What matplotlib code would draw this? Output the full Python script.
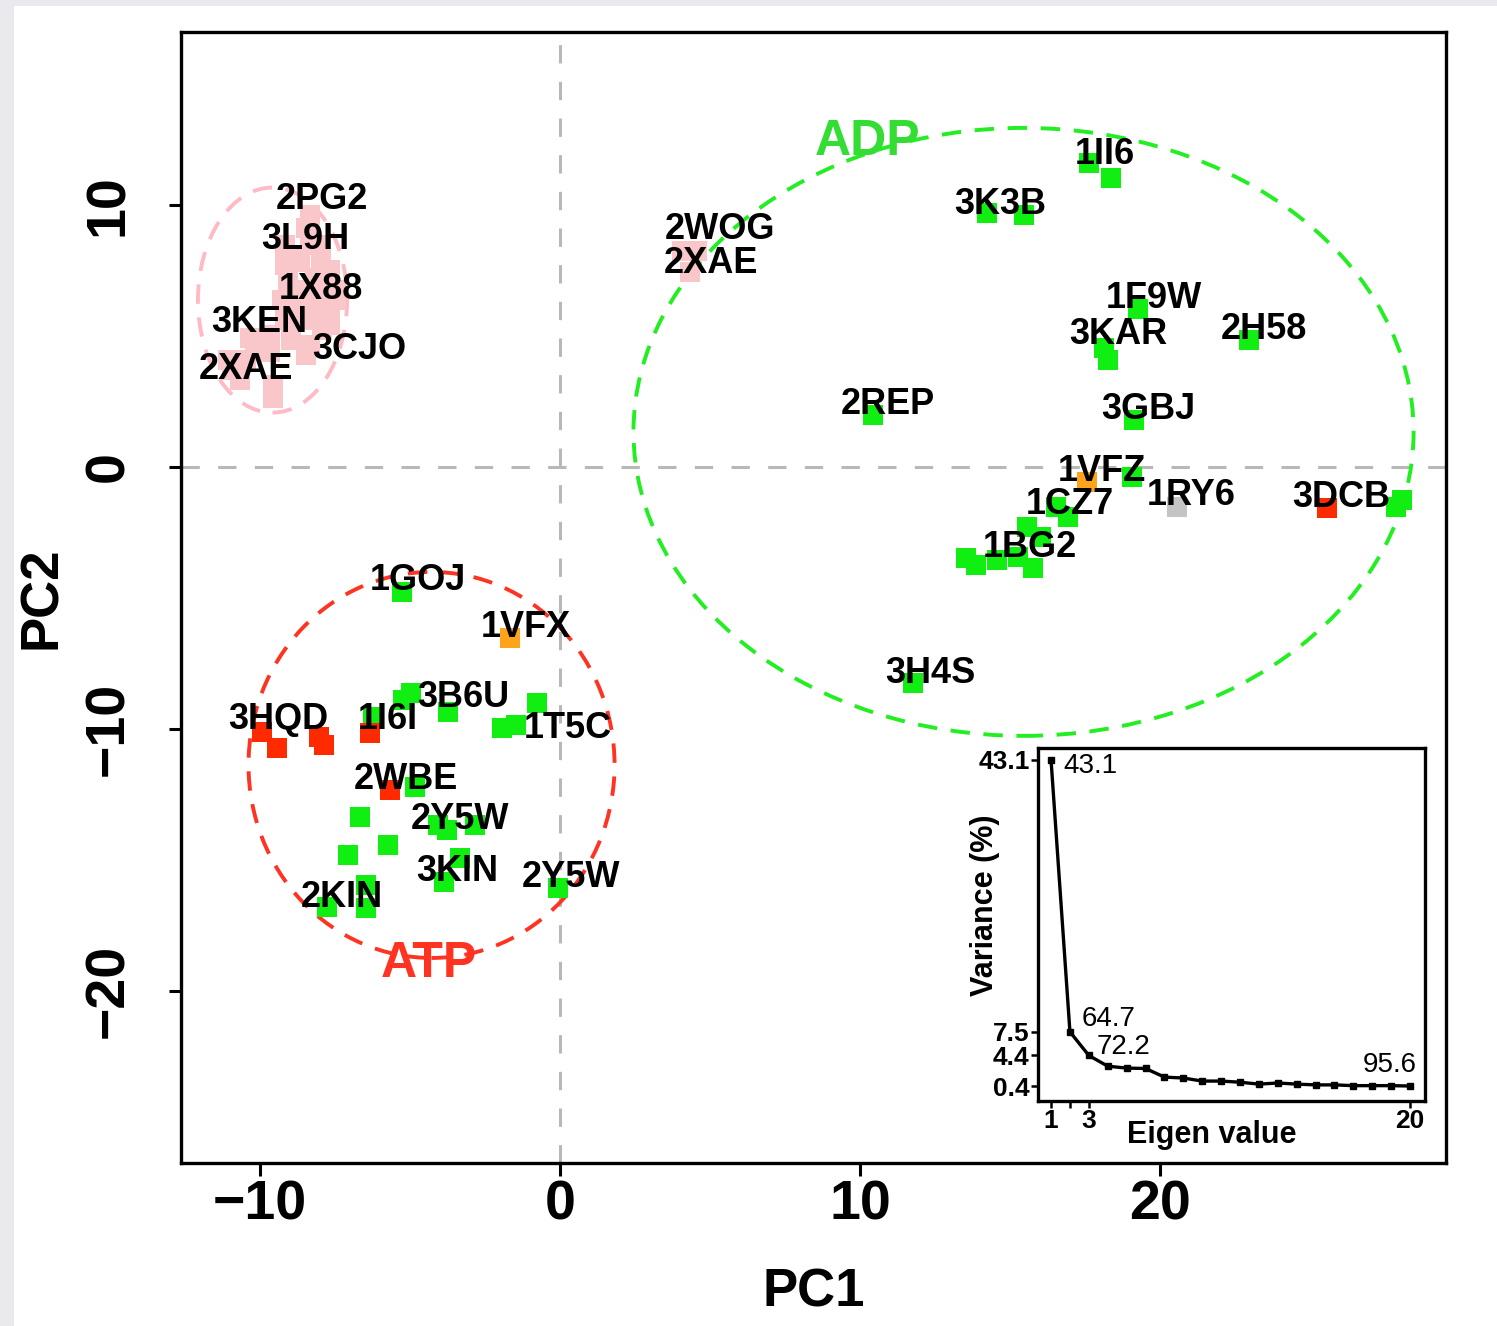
import matplotlib
matplotlib.use("Agg")
import matplotlib.pyplot as plt
from matplotlib.patches import Ellipse, Rectangle

plt.rcParams['font.family'] = ['Liberation Sans', 'DejaVu Sans']

# ---------------- data (PC1, PC2) ----------------
green_x = [17.62, 18.35, 14.22, 15.48, 19.28, 18.12, 18.28, 22.95, 19.12, 10.42,
           19.08, 27.85, 28.08, 16.52, 16.92, 15.58, 16.02, 13.52, 13.85, 14.58,
           15.25, 15.78, 11.75,
           -5.25, -4.98, -5.22, -3.72, -6.22, -0.75, -1.92, -1.48, -4.82, -6.65,
           -5.72, -7.08, -4.08, -3.75, -2.82, -3.32, -3.88, -6.48, -7.75, -6.48, -0.08]
green_y = [11.60, 11.03, 9.69, 9.62, 6.03, 4.54, 4.08, 4.85, 1.79, 1.98,
           -0.38, -1.53, -1.26, -1.53, -1.91, -2.29, -2.67, -3.47, -3.74, -3.55,
           -3.44, -3.85, -8.24,
           -4.77, -8.63, -8.89, -9.35, -9.54, -9.01, -9.96, -9.85, -12.21, -13.36,
           -14.43, -14.81, -13.66, -13.85, -13.66, -14.92, -15.84, -15.95, -16.79, -16.83, -16.07]

red_x = [-9.92, -9.42, -8.02, -7.88, -6.32, -5.65, 25.58]
red_y = [-10.11, -10.73, -10.31, -10.61, -10.15, -12.33, -1.56]

orange_x = [17.58, -1.65]
orange_y = [-0.57, -6.53]

gray_x = [20.58]
gray_y = [-1.53]

pink_x = [-8.32, -8.48, -8.32, -8.98, -8.65, -7.98, -7.65, -9.05, -8.65, -7.82,
          -8.05, -8.82, -7.65, -8.32, -7.92, -10.32, -9.65, -8.98, -8.32, -8.48,
          -10.92, -10.65, -11.05, -9.58, -9.55,
          -9.15, -7.98, -9.15, -8.15, -7.48, -9.25, -8.48, -7.48, -9.15, -8.65,
          -7.65, -10.15, -9.65, -10.48,
          4.08, 4.58, 4.35]
pink_y = [9.62, 9.12, 8.47, 8.09, 7.82, 7.98, 7.52, 7.14, 6.76, 6.76,
          6.18, 6.18, 5.99, 5.61, 5.23, 4.92, 5.04, 4.85, 4.66, 4.27,
          3.70, 3.32, 4.08, 3.13, 2.63,
          8.47, 8.47, 7.71, 7.21, 6.76, 6.37, 6.37, 6.37, 5.61, 5.61,
          5.42, 4.47, 4.39, 4.08,
          8.24, 8.24, 7.44]

labels = ["2PG2", "3L9H", "1X88", "3KEN", "3CJO", "2XAE", "2WOG", "2XAE", "1II6",
          "3K3B", "1F9W", "3KAR", "2H58", "2REP", "3GBJ", "1VFZ", "1RY6", "3DCB",
          "1CZ7", "1BG2", "3H4S", "1GOJ", "1VFX", "3B6U", "3HQD", "1I6I", "1T5C",
          "2WBE", "2Y5W", "3KIN", "2Y5W", "2KIN"]
label_x = [-7.92, -8.48, -7.98, -10.02, -6.68, -10.48, 5.35, 5.02, 18.15,
           14.68, 19.78, 18.62, 23.45, 10.92, 19.62, 18.05, 21.05, 26.05,
           16.98, 15.65, 12.35, -4.72, -1.15, -3.22, -9.38, -5.75, 0.25,
           -5.15, -3.32, -3.42, 0.38, -7.28]
label_y = [10.20, 8.67, 6.76, 5.50, 4.47, 3.71, 9.05, 7.75, 11.91,
           10.01, 6.42, 5.04, 5.24, 2.37, 2.18, -0.18, -1.10, -1.18,
           -1.44, -3.09, -7.89, -4.34, -6.14, -8.81, -9.65, -9.65, -9.96,
           -11.94, -13.47, -15.45, -15.68, -16.41]

x_ticks = [-10, 0, 10, 20]
y_ticks = [-20, -10, 0, 10]

# scree inset
eig_idx = list(range(1, 21))
variance = [43.1, 7.5, 4.4, 3.0, 2.75, 2.7, 1.57, 1.45, 1.05, 1.05,
            0.9, 0.65, 0.8, 0.65, 0.55, 0.55, 0.45, 0.45, 0.45, 0.4]
cum_labels = ["43.1", "64.7", "72.2", "95.6"]
cum_pos = [(3.11, 42.3), (4.06, 9.15), (4.85, 5.49), (18.94, 3.14)]
inset_yticks = [0.4, 4.4, 7.5, 43.1]
inset_xticks = [1, 2, 3, 20]
inset_xticklabels = ["1", "", "3", "20"]

# ---------------- figure ----------------
W, H = 1497, 1326
fig = plt.figure(figsize=(W / 100, H / 100), dpi=100)
fig.patch.set_facecolor('#e9e9ee')
fig.patches.append(Rectangle((14 / W, 0), 1, 1 - 6 / H, transform=fig.transFigure,
                             facecolor='white', edgecolor='none', zorder=-10))

ax = fig.add_axes([181 / W, 1 - 1163 / H, (1446 - 181) / W, (1163 - 32) / H])
ax.set_xlim(-12.63, 29.53)
ax.set_ylim(-26.56, 16.6)

ax.axvline(0, color='#b8b8b8', lw=2.2, ls=(0, (6, 6)), zorder=1)
ax.axhline(0, color='#b8b8b8', lw=2.2, ls=(0, (6, 6)), zorder=1)

ell_kw = dict(fill=False, lw=2.8, ls=(0, (5, 3.5)), zorder=2)
ax.add_patch(Ellipse((-9.58, 6.37), 4.97, 8.59, edgecolor='#ffbac4', **ell_kw))
ax.add_patch(Ellipse((15.45, 1.34), 26.0, 23.2, edgecolor='#22ee22', **ell_kw))
ax.add_patch(Ellipse((-4.28, -11.37), 12.2, 14.73, edgecolor='#ff3322', **ell_kw))

mk = dict(marker='s', ms=14.5, ls='none', mew=0, zorder=3)
ax.plot(pink_x, pink_y, color='#f9c6ca', **mk)
ax.plot(green_x, green_y, color='#11ee11', **mk)
ax.plot(red_x, red_y, color='#ff2a00', **mk)
ax.plot(orange_x, orange_y, color='#ffa31a', **mk)
ax.plot(gray_x, gray_y, color='#c4c4c4', **mk)

for t, x, y in zip(labels, label_x, label_y):
    ax.text(x, y, t, fontsize=26, fontweight='bold', ha='center', va='center', zorder=4)

ax.text(10.25, 12.40, "ADP", color='#33dd33', fontsize=36, fontweight='bold',
        ha='center', va='center', zorder=4)
ax.text(-4.38, -18.97, "ATP", color='#ff3322', fontsize=36, fontweight='bold',
        ha='center', va='center', zorder=4)

ax.set_xticks(x_ticks)
ax.set_yticks(y_ticks)
ax.tick_params(axis='both', direction='out', length=9, width=2.2, labelsize=40)
ax.tick_params(axis='x', pad=3)
ax.tick_params(axis='y', pad=24)
for lab in ax.get_xticklabels() + ax.get_yticklabels():
    lab.set_fontweight('bold')
for lab in ax.get_yticklabels():
    lab.set_rotation(90)
    lab.set_va('center')
for s in ax.spines.values():
    s.set_linewidth(2.4)

ax.set_xlabel("PC1", fontsize=38, fontweight='bold', labelpad=26)
ax.set_ylabel("PC2", fontsize=38, fontweight='bold', labelpad=12)

# ---------------- inset ----------------
ins = fig.add_axes([1038 / W, 1 - 1101 / H, (1425 - 1038) / W, (1101 - 748) / H])
ins.set_xlim(0.31, 20.79)
ins.set_ylim(-1.56, 44.67)
ins.plot(eig_idx, variance, color='black', lw=2.4, marker='s', ms=5, zorder=3)
for t, (x, y) in zip(cum_labels, cum_pos):
    ins.text(x, y, t, fontsize=20, ha='center', va='center')
ins.set_yticks(inset_yticks)
ins.set_yticklabels([str(v) for v in inset_yticks])
ins.set_xticks(inset_xticks)
ins.set_xticklabels(inset_xticklabels)
ins.tick_params(axis='both', direction='out', length=5, width=1.8, labelsize=19, pad=1)
for lab in ins.get_xticklabels() + ins.get_yticklabels():
    lab.set_fontweight('bold')
for s in ins.spines.values():
    s.set_linewidth(2.4)
fig.text(1212 / W, 1 - 1135 / H, "Eigen value", fontsize=22, fontweight='bold',
         ha='center', va='center')
fig.text(985 / W, 1 - 905 / H, "Variance (%)", fontsize=22, fontweight='bold',
         ha='center', va='center', rotation=90)

fig.savefig("out.png", dpi=100, facecolor=fig.get_facecolor())
